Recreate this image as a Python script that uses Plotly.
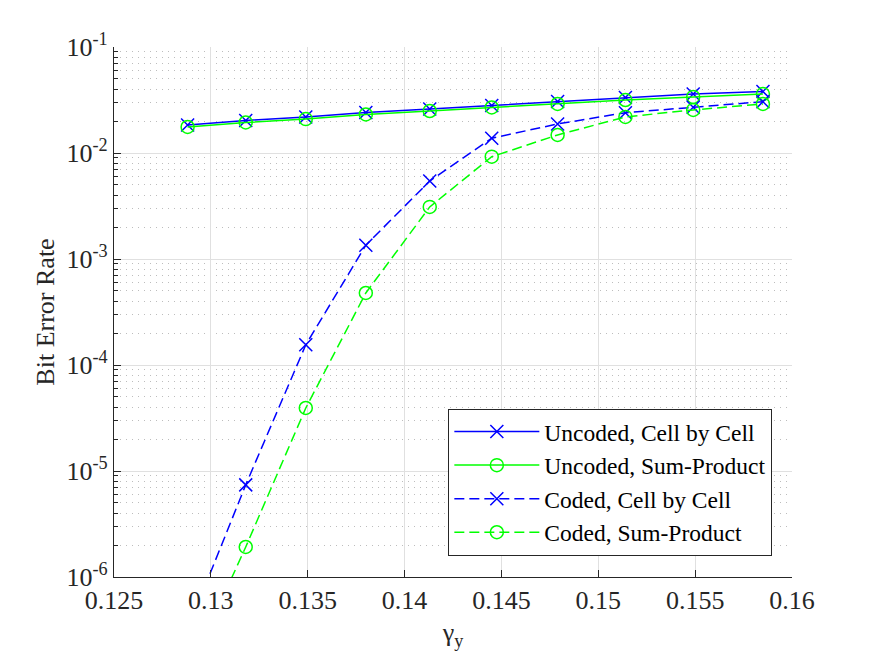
import plotly.graph_objects as go

gamma_y = [0.1288, 0.1318, 0.1349, 0.1380, 0.1413, 0.1445, 0.1479, 0.1514, 0.1549, 0.1585]

uncoded_cbc = [0.0184, 0.0203, 0.0219, 0.0241, 0.0260, 0.0281, 0.0306, 0.0334, 0.0360, 0.0380]
uncoded_sp = [0.0176, 0.0194, 0.0209, 0.0231, 0.0249, 0.0269, 0.0290, 0.0316, 0.0338, 0.0360]
coded_cbc = [3.2e-7, 7.4e-6, 1.55e-4, 1.35e-3, 5.44e-3, 0.0138, 0.0188, 0.0240, 0.0270, 0.0305]
coded_sp = [1.2e-7, 1.92e-6, 3.93e-5, 4.78e-4, 3.10e-3, 0.00923, 0.0148, 0.0219, 0.0255, 0.0290]

names = ["Uncoded, Cell by Cell", "Uncoded, Sum-Product", "Coded, Cell by Cell", "Coded, Sum-Product"]

x_ticks = [0.125, 0.13, 0.135, 0.14, 0.145, 0.15, 0.155, 0.16]
x_ticklabels = ["0.125", "0.13", "0.135", "0.14", "0.145", "0.15", "0.155", "0.16"]
y_ticks = [1e-6, 1e-5, 1e-4, 1e-3, 1e-2, 1e-1]
y_ticklabels = ["10<sup>-6</sup>", "10<sup>-5</sup>", "10<sup>-4</sup>", "10<sup>-3</sup>", "10<sup>-2</sup>", "10<sup>-1</sup>"]

BLUE = "#0000ff"
GREEN = "#00ff00"
FONT = "Liberation Serif"
TXT = "#262626"

fig = go.Figure()
series = [
    (uncoded_cbc, BLUE, "solid", "x-thin"),
    (uncoded_sp, GREEN, "solid", "circle-open"),
    (coded_cbc, BLUE, "10px,5px", "x-thin"),
    (coded_sp, GREEN, "10px,5px", "circle-open"),
]
for (vals, col, dash, sym), nm in zip(series, names):
    fig.add_trace(go.Scatter(
        x=gamma_y, y=vals, name=nm, mode="lines+markers",
        line=dict(color=col, width=1.5, dash=dash),
        marker=dict(symbol=sym, size=13, color=col, line=dict(color=col, width=1.5)),
        cliponaxis=True,
    ))

fig.update_layout(
    width=875, height=657,
    margin=dict(l=113.5, r=82.5, t=47, b=80),
    paper_bgcolor="white", plot_bgcolor="white",
    font=dict(family=FONT, size=26, color=TXT),
    showlegend=True,
    legend=dict(
        x=0.971, xanchor="right", y=0.04, yanchor="bottom",
        bgcolor="white", bordercolor=TXT, borderwidth=1,
        font=dict(family=FONT, size=23.5, color="black"),
        tracegroupgap=0, itemwidth=85,
    ),
)
fig.update_xaxes(
    range=[0.125, 0.16], tickvals=x_ticks, ticktext=x_ticklabels,
    showline=True, linecolor=TXT, linewidth=1.3, mirror=False,
    ticks="inside", ticklen=7, tickcolor=TXT,
    showgrid=True, gridcolor="#e0e0e0", gridwidth=1, zeroline=False,
    tickfont=dict(family=FONT, size=26, color=TXT),
    title=dict(text="γ<sub>y</sub>", font=dict(family=FONT, size=26, color=TXT), standoff=8),
)
fig.update_yaxes(
    type="log", range=[-6, -1], tickvals=y_ticks, ticktext=y_ticklabels,
    showline=True, linecolor=TXT, linewidth=1.3, mirror=False,
    ticks="inside", ticklen=7, tickcolor=TXT,
    showgrid=True, gridcolor="#e0e0e0", gridwidth=1, zeroline=False,
    tickfont=dict(family=FONT, size=26, color=TXT),
    minor=dict(dtick="D1", ticks="inside", ticklen=4, tickcolor=TXT,
               showgrid=True, gridcolor="#bdbdbd", griddash="1px,5px", gridwidth=1),
    title=dict(text="Bit Error Rate", font=dict(family=FONT, size=26, color=TXT), standoff=4),
)

fig.write_html("out.html")
